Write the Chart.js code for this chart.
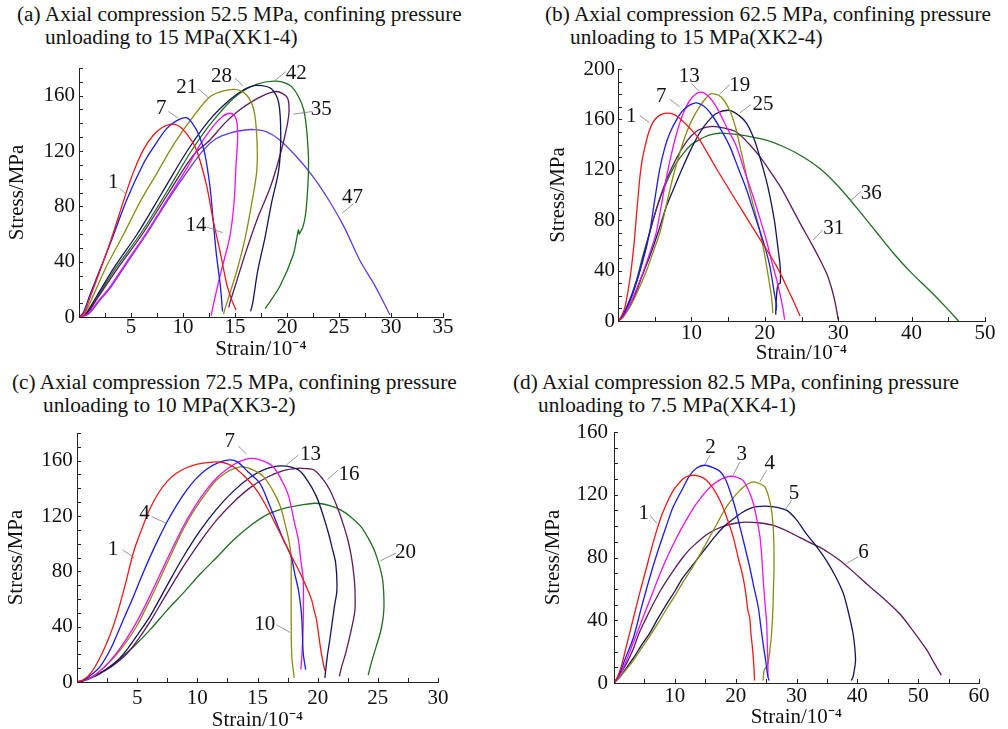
<!DOCTYPE html>
<html>
<head>
<meta charset="utf-8">
<script src="https://cdn.jsdelivr.net/npm/chart.js@4.4.0/dist/chart.umd.min.js"></script>
<style>
  html, body { margin: 0; padding: 0; background: #fff; }
  body { width: 1008px; height: 729px; position: relative; overflow: hidden; font-family: "Liberation Serif", "Times New Roman", serif; }
  canvas { position: absolute; }
  .cap { position: absolute; font-size: 21.3px; line-height: 23px; white-space: nowrap; color: #111; }
</style>
</head>
<body>
<div class="cap" style="left:17px;top:3px">(a) Axial compression 52.5 MPa, confining pressure</div>
<div class="cap" style="left:45px;top:26px">unloading to 15 MPa(XK1-4)</div>
<div class="cap" style="left:545px;top:3px">(b) Axial compression 62.5 MPa, confining pressure</div>
<div class="cap" style="left:570px;top:26px">unloading to 15 MPa(XK2-4)</div>
<div class="cap" style="left:12px;top:371px">(c) Axial compression 72.5 MPa, confining pressure</div>
<div class="cap" style="left:43px;top:394px">unloading to 10 MPa(XK3-2)</div>
<div class="cap" style="left:513px;top:371px">(d) Axial compression 82.5 MPa, confining pressure</div>
<div class="cap" style="left:538px;top:394px">unloading to 7.5 MPa(XK4-1)</div>

<canvas id="chartA" width="500" height="312" style="left:0;top:50px"></canvas>
<canvas id="chartB" width="504" height="316" style="left:504px;top:50px"></canvas>
<canvas id="chartC" width="500" height="318" style="left:0;top:415px"></canvas>
<canvas id="chartD" width="504" height="316" style="left:504px;top:414px"></canvas>

<script>
// Stress-strain curves, [strain (10^-4), stress (MPa)]

// (a) XK1-4, curve numbers 1..47
const curveA1 = [[0,0],[0.5,3],[1.2,17],[2.0,33],[3.0,54],[4.5,89],[5.3,106],[6.2,121],[7.1,131],[8.0,137],[9.0,139.5],[9.8,137],[10.5,131],[11.1,124],[11.6,114],[12.3,94],[12.9,70],[13.6,46],[14.2,24],[14.7,12],[15.1,5]];
const curveA7 = [[0,0],[0.4,3],[1.1,17],[2.0,34],[3.1,55],[4.6,85],[6.2,111],[7.1,122],[8.4,136],[9.4,142],[10.4,144],[11.2,136.5],[11.7,128],[12.1,118],[12.6,94],[12.9,70],[13.2,46],[13.6,22],[13.8,4]];
const curveA14 = [[0,0],[0.8,2],[1.9,12],[3.0,22],[4.6,40],[6.4,60],[8.4,84],[10.4,108],[11.6,124],[12.9,138],[13.8,145],[14.5,147.3],[15.0,145],[15.2,140],[15.25,128],[15.1,110],[14.9,82],[14.5,58],[13.7,34],[13.1,15],[12.7,1]];
const curveA21 = [[0,0],[0.5,2],[1.4,16],[2.6,36],[4.3,60],[6.0,85],[7.5,104],[8.8,121],[10.4,139],[12.4,158],[13.5,162.5],[15.0,164.5],[16.1,160.5],[16.8,150],[17.1,130],[17.1,106],[16.6,82],[16.0,58],[15.2,34],[14.5,17],[14.0,5],[13.9,2]];
const curveA28 = [[0,0],[0.6,2],[1.7,15],[3.4,36],[5.6,60],[8.0,90],[10.4,120],[12.5,142],[14.5,157],[16.0,165],[17.1,167.5],[18.5,165],[19.2,155],[19.4,130],[19.2,106],[18.5,82],[17.9,58],[17.2,34],[16.7,10],[16.5,4]];
const curveA35 = [[0,0],[0.7,2],[1.9,15],[3.8,36],[6.1,60],[8.8,92],[11.0,117],[12.6,128],[14.0,140],[15.5,150],[17.4,159],[19.0,163],[20.0,159],[20.2,150],[20.0,138],[19.3,116],[18.4,94],[17.1,70],[16.0,46],[15.0,22],[14.5,10],[14.4,7]];
const curveA42 = [[0,0],[0.7,2],[1.8,15],[3.6,36],[5.9,60],[8.4,90],[10.8,120],[12.8,141],[15.0,159],[17.0,168],[19.0,170.5],[20.45,166.5],[21.6,150],[22.05,118],[22.0,94],[21.7,70],[21.2,60],[21.1,63],[20.6,45],[19.3,22],[17.9,6]];
const curveA47 = [[0,0],[0.9,2],[2.0,12],[3.1,22],[4.7,40],[6.5,60],[8.5,84],[10.5,106],[12.0,121],[13.2,129],[14.5,133],[15.8,135],[16.8,135.5],[18.0,134],[19.3,128],[20.9,116],[22.5,101.5],[24.1,83.5],[25.5,65],[27.0,41],[28.5,22],[29.9,1.5]];

// (b) XK2-4
const curveB1 = [[0,0],[0.4,3],[0.9,10],[1.4,25],[1.8,41],[2.2,62],[2.5,83],[2.8,103],[3.0,115],[3.3,128],[3.7,139],[4.2,150],[4.8,158],[5.6,163],[6.6,165],[7.6,164],[8.4,161],[9.8,153],[11.1,144],[13.4,121],[15.6,100],[18.8,70],[21.6,43.5],[23.4,22],[24.5,8],[24.8,4]];
const curveB7 = [[0,0],[0.5,3],[1.2,11],[2.0,22],[3.4,48],[4.3,70],[5.0,96],[5.7,121],[6.4,138],[7.05,149],[8.0,160],[8.9,167.5],[10.45,173],[11.8,170],[12.9,162.5],[14.0,152],[15.2,139],[16.4,121],[17.5,104.5],[18.4,88],[19.3,72],[20.1,57],[20.7,43],[21.3,22],[21.6,12],[21.5,8]];
const curveB13 = [[0,0],[0.6,3],[1.5,12],[2.5,25],[3.5,40],[4.4,55],[5.2,70],[6.0,95],[6.6,114],[7.3,133],[8.0,149],[8.9,165],[9.9,176],[11.1,181.5],[12.2,179],[13.4,170],[14.7,155],[16.1,139],[17.3,118],[18.4,99],[19.3,82],[20.2,64.5],[20.9,48],[21.6,33],[22.2,18],[22.5,9],[22.7,1]];
const curveB19 = [[0,0],[0.7,3],[1.7,12],[2.8,25],[3.9,40],[4.8,55],[5.7,70],[6.7,95],[7.5,114.5],[8.4,133],[9.3,149],[10.2,161],[11.1,170],[12.0,177],[12.7,180.5],[14.0,178],[15.2,167.5],[16.0,154],[16.6,139],[17.3,121],[17.9,104.5],[18.6,88],[19.3,72],[19.9,55],[20.4,38],[20.9,19.6],[21.1,6.4]];
const curveB25 = [[0,0],[0.6,3],[2.0,16],[3.1,33],[4.3,51],[5.5,71],[6.6,91],[7.8,108],[8.9,123],[10.0,137],[11.1,149],[12.2,158],[13.4,164.7],[15.2,167.2],[16.5,163],[17.5,157],[18.5,145],[19.3,130.6],[20.1,114],[20.7,99],[21.3,80],[21.6,67],[21.9,53],[22.1,43],[22.1,30],[21.8,29],[21.6,20],[21.5,9],[21.5,5]];
const curveB31 = [[0,0],[0.5,3],[1.5,14],[2.6,32],[3.5,52],[4.3,70],[5.4,92],[6.6,112],[7.7,126],[8.9,138.6],[10.0,147],[11.1,152],[12.8,154.5],[14.5,153],[16.1,150],[17.7,141.5],[19.3,130.6],[20.7,119],[22.1,106.8],[23.5,92],[24.8,77.7],[26.3,62],[27.4,50],[28.4,38],[29.0,28],[29.5,17],[29.8,8],[30.0,1]];
const curveB36 = [[0,0],[0.5,3],[1.4,14],[2.5,32],[3.4,52],[4.3,70],[5.4,92],[6.6,110],[7.7,123],[8.9,133],[10.0,140],[11.1,144],[12.4,147.5],[13.8,149],[15.5,148.5],[17.5,147],[20.2,143.5],[22.5,138.5],[25.0,131],[27.5,121],[30.0,107],[32.5,90],[35.0,72],[37.5,54],[40.0,38],[42.5,24],[44.5,12],[46.4,0]];

// (c) XK3-2
const curveC1 = [[0,0],[0.5,1.5],[1.0,5],[1.5,11],[2.1,21],[2.7,33],[3.3,48],[4.0,70],[4.7,94],[5.4,111],[6.1,126],[6.8,137],[7.5,145],[8.2,150.5],[9.0,154.5],[10.0,157.5],[11.3,159],[12.2,158.5],[13.0,155.6],[14.0,148],[14.9,139],[15.8,126],[16.6,112.3],[17.2,102],[17.7,93],[18.3,83],[18.8,74],[19.2,66],[19.5,59.4],[19.7,52],[19.9,45],[20.1,33],[20.3,21],[20.5,12],[20.6,8]];
const curveC4 = [[0,0],[0.5,1],[1.0,4],[1.9,11],[2.8,24],[3.7,42],[4.7,62],[5.4,77],[6.1,91],[6.8,104],[7.5,116],[8.3,128],[9.1,138.5],[9.9,147],[10.8,154],[11.8,158.8],[12.7,160.5],[13.3,159.3],[14.2,152],[15.2,143.6],[15.9,130],[16.6,114.7],[17.2,102],[17.8,90.7],[18.1,78],[18.4,66.6],[18.6,54],[18.7,42.6],[18.8,21],[19.0,9]];
const curveC7 = [[0,0],[0.7,1.5],[1.5,5],[2.3,11],[3.2,20],[4.1,31],[5.0,44],[6.1,63],[7.4,87],[8.8,112],[9.8,127],[10.8,139.5],[11.6,147.5],[12.4,153.5],[13.4,159],[14.5,161.7],[15.4,160],[16.3,155.6],[17.0,146],[17.6,134],[18.0,118],[18.4,102.6],[18.6,88],[18.8,73.8],[18.8,42.6],[18.7,21],[18.6,9]];
const curveC10 = [[0,0],[0.7,1.5],[1.5,5],[2.3,11],[3.2,19],[4.1,29],[5.0,41],[6.1,60],[7.5,86],[8.8,110],[9.8,125],[10.8,137.5],[11.6,146],[12.4,151.5],[13.1,154.5],[13.8,155.6],[14.7,153],[15.5,148.5],[16.3,138],[16.9,126.8],[17.3,114],[17.6,102.6],[17.8,90],[17.8,78.6],[17.8,42.6],[17.85,18.5],[18.05,3]];
const curveC13 = [[0,0],[0.7,1.5],[1.5,4.5],[2.4,9],[3.3,15],[4.2,24],[5.1,35],[6.1,48],[7.5,70],[8.8,90],[10.2,109],[11.6,125],[13.0,138],[14.4,148],[15.7,154],[17.0,156.2],[18.4,153.3],[19.2,145],[19.9,134],[20.4,122],[20.9,107.5],[21.2,97],[21.5,85.8],[21.6,66.6],[21.4,55],[21.2,42.6],[21.0,30],[20.8,18.5],[20.6,3]];
const curveC16 = [[0,0],[0.7,1.5],[1.5,4.5],[2.4,8.5],[3.3,14],[4.2,21],[5.1,31],[6.1,44],[7.4,63],[8.8,83],[10.2,101],[11.6,117],[13.0,130],[14.4,140.5],[15.8,148],[17.2,153],[18.3,154.5],[19.0,154.3],[19.7,153.3],[20.4,147],[21.0,139],[21.6,127],[22.1,114.7],[22.5,103],[22.8,90.7],[23.0,78],[23.1,66.6],[23.1,52.2],[22.9,42],[22.6,30.5],[22.3,20],[22.0,11.3],[21.8,4]];
const curveC20 = [[0,0],[0.6,1],[1.2,3],[1.9,6],[3.3,15],[4.7,25.5],[6.1,38],[7.5,52],[8.9,65],[10.3,78.6],[11.6,90],[13.0,102.6],[14.4,113],[15.8,121],[17.0,125],[18.0,127],[19.8,129.2],[21.0,127.5],[21.9,124.4],[22.8,119],[23.6,112.3],[24.2,104],[24.7,95.4],[25.1,85],[25.4,73.8],[25.5,62],[25.5,52.2],[25.4,44],[25.2,35.4],[24.7,21],[24.4,12],[24.2,5]];

// (d) XK4-1
const curveD1 = [[0,0],[0.6,4],[1.3,12],[2.0,23],[3.1,40],[4.2,57],[5.3,73],[6.4,89],[7.0,97],[7.8,106.5],[8.6,114],[9.7,122.5],[10.6,127],[11.4,130.3],[12.3,132],[13.3,132.4],[14.2,131.5],[15.2,129.2],[16.3,124],[17.4,116.5],[18.5,106],[19.6,93],[20.4,80],[21.2,67.6],[21.7,56],[22.0,46.3],[22.3,42],[22.5,32],[22.8,20.8],[23.0,10],[23.1,1.6]];
const curveD2 = [[0,0],[0.8,5],[1.8,15],[3.2,29],[4.5,48],[5.9,67.6],[7.2,84],[8.6,100],[9.7,112],[11.3,124],[12.4,132],[13.6,137],[14.9,138.8],[16.2,137.5],[17.4,135],[18.3,130],[19.0,123],[19.9,112],[20.7,99.5],[21.5,87],[22.3,74],[23.0,61],[23.7,48.6],[24.1,37],[24.5,25.3],[24.9,15],[25.3,4],[25.5,1.6]];
const curveD3 = [[0,0],[0.8,4],[1.9,13],[3.2,26],[4.5,39],[5.9,53],[7.2,66],[8.6,79],[10.2,92],[11.9,104],[13.5,114],[15.2,122.5],[16.3,126.5],[17.4,129.5],[18.4,131.2],[19.3,131.8],[20.3,131],[21.2,129.2],[22.1,123],[22.9,114.6],[23.5,104],[24.0,93],[24.3,80],[24.5,67.6],[24.8,52],[25.1,37.8],[25.2,25],[25.3,12.3],[25.3,4]];
const curveD4 = [[0,0],[1.0,4],[2.1,9],[3.2,14.5],[4.5,22],[5.9,30],[7.2,38],[8.6,47],[10.0,55.5],[11.3,64],[12.7,72.5],[14.0,81],[15.0,88],[16.0,95],[17.0,102],[17.9,108.5],[18.8,114],[19.6,118],[20.5,122],[21.3,125],[22.1,127.2],[22.9,128.2],[24.0,127],[24.8,125],[25.4,119],[25.9,110],[26.2,97],[26.3,84.6],[26.3,72],[26.2,59],[26.1,45],[25.9,31.4],[25.6,20],[25.3,12.3],[25.0,10],[24.7,8.5],[24.6,6],[24.5,1.6]];
const curveD5 = [[0,0],[1.0,4],[2.1,10],[3.2,16],[4.5,24],[5.9,32],[7.2,41],[8.6,50],[10.0,58.5],[11.3,67],[12.7,74],[14.1,81],[15.3,87],[16.5,93],[18.0,99.5],[19.6,104.5],[21.0,108.5],[22.5,111.5],[24.0,112.6],[26.0,112.4],[28.4,110],[30.0,104],[31.6,95.2],[33.3,87],[34.9,78.2],[36.4,68],[37.7,57],[38.6,44],[39.3,31.4],[39.6,22],[39.7,14.4],[39.5,8],[39.3,4],[39.0,1.6]];
const curveD6 = [[0,0],[0.9,5],[2.0,12],[3.1,21],[4.2,32.5],[5.3,41.5],[6.4,50],[7.5,58],[8.6,65],[9.9,72.5],[11.3,80],[12.4,85],[13.5,89],[15.2,94.5],[16.8,98],[18.5,100.5],[20.2,102],[21.8,102.6],[24.0,102],[26.2,100.5],[28.4,97],[30.5,92.8],[32.2,89.5],[33.8,86.6],[35.5,82.6],[37.1,78.2],[39.3,71],[41.5,63.3],[44.3,54],[47.0,44],[49.2,33],[51.3,21.7],[52.6,13],[53.8,5]];

// curve colours, same order in every panel
const RED = '#f01818', BLUE = '#1a1aee', MAGENTA = '#f010f0', OLIVE = '#8a8a14',
      NAVY = '#14145a', PURPLE = '#5c1a5c', GREEN = '#1e6e1e', VIOLET = '#5a3cf0';

// curve number tags: [label, text x, text y, leader x1, y1, x2, y2] in data units
const tagsA = [
  ['1', 3.3, 97, 3.9, 93, 4.5, 89],
  ['7', 7.9, 151, 8.6, 148.5, 9.55, 143.7],
  ['14', 11.25, 65.8, 12.3, 65, 13.8, 61],
  ['21', 10.35, 166, 11.5, 164.7, 12.4, 158.9],
  ['28', 13.7, 173.8, 15.0, 172.6, 15.8, 167],
  ['42', 20.9, 175.7, 19.9, 177.4, 18.85, 171],
  ['35', 23.3, 150, 22.4, 148.5, 20.6, 146.6],
  ['47', 26.3, 86.5, 26.4, 82, 25.3, 75]
];
const tagsB = [
  ['1', 1.8, 162.5, 2.97, 163, 4.3, 157.3],
  ['7', 5.9, 178.4, 7.04, 176, 8.4, 170],
  ['13', 9.7, 193.7, 10.0, 188.5, 11.1, 182],
  ['19', 16.6, 186.9, 15.2, 187.6, 13.8, 179.7],
  ['25', 19.76, 171.8, 18.1, 171.8, 16.6, 165.1],
  ['36', 34.5, 101.5, 33.1, 102.8, 31.6, 95],
  ['31', 29.4, 73.6, 27.9, 72.3, 26.6, 64.3]
];
const tagsC = [
  ['1', 3.0, 95.5, 3.8, 95.5, 4.8, 89.5],
  ['4', 5.6, 121.5, 6.2, 119.6, 7.4, 114.8],
  ['7', 12.7, 173.7, 13.4, 170.6, 14.1, 164.8],
  ['13', 19.4, 164.6, 18.4, 164.1, 17.4, 156.9],
  ['16', 22.6, 150.1, 21.7, 153.3, 20.8, 146.1],
  ['20', 27.3, 93.8, 26.5, 93.1, 25.2, 87.6],
  ['10', 15.6, 41.7, 16.6, 41.3, 17.7, 35.8]
];
const tagsD = [
  ['1', 4.9, 108, 5.9, 107, 7.1, 101.6],
  ['2', 15.85, 150, 15.75, 145.2, 14.9, 138.9],
  ['3', 21.0, 145.7, 20.7, 140.9, 19.6, 132.6],
  ['4', 25.6, 140, 25.1, 135.6, 23.96, 128.2],
  ['5', 29.6, 120.8, 29.2, 116.5, 28.1, 110.2],
  ['6', 41.0, 82.9, 40.1, 80.4, 38.2, 76.1]
];

const SERIF = '"Liberation Serif", "Times New Roman", serif';
const INK = '#111';

// tick marks pointing into the plot
const innerTicks = {
  id: 'innerTicks',
  afterDraw(chart) {
    const { ctx, scales: { x, y } } = chart;
    ctx.save();
    ctx.strokeStyle = '#222';
    ctx.lineWidth = 1;
    ctx.beginPath();
    x.ticks.forEach(t => {
      const px = Math.round(x.getPixelForValue(t.value)) + 0.5;
      ctx.moveTo(px, y.bottom);
      ctx.lineTo(px, y.bottom - 4);
    });
    y.ticks.forEach(t => {
      const py = Math.round(y.getPixelForValue(t.value)) + 0.5;
      ctx.moveTo(x.left, py);
      ctx.lineTo(x.left + 4, py);
    });
    ctx.stroke();
    ctx.restore();
  }
};

// curve numbers with thin grey leader lines
function tagPlugin(tags) {
  return {
    id: 'curveTags',
    afterDatasetsDraw(chart) {
      const { ctx, scales: { x, y } } = chart;
      ctx.save();
      ctx.font = '21px ' + SERIF;
      ctx.textAlign = 'center';
      ctx.textBaseline = 'middle';
      tags.forEach(([label, tx, ty, x1, y1, x2, y2]) => {
        ctx.strokeStyle = '#7a7a7a';
        ctx.lineWidth = 0.8;
        ctx.beginPath();
        ctx.moveTo(x.getPixelForValue(x1), y.getPixelForValue(y1));
        ctx.lineTo(x.getPixelForValue(x2), y.getPixelForValue(y2));
        ctx.stroke();
        ctx.fillStyle = INK;
        ctx.fillText(label, x.getPixelForValue(tx), y.getPixelForValue(ty));
      });
      ctx.restore();
    }
  };
}

const onStep = (v, every) => Math.abs(v / every - Math.round(v / every)) < 1e-6;

function makeChart(id, cfg) {
  return new Chart(document.getElementById(id), {
    type: 'scatter',
    data: {
      datasets: cfg.series.map((s, i) => ({
        data: s.map(p => ({ x: p[0], y: p[1] })),
        borderColor: cfg.colors[i],
        borderWidth: 1.3,
        showLine: true,
        pointRadius: 0,
        tension: 0.3,
        fill: false
      }))
    },
    options: {
      responsive: false,
      animation: false,
      layout: { padding: { left: 0, top: cfg.padTop, right: cfg.padRight, bottom: 0 } },
      plugins: { legend: { display: false }, tooltip: { enabled: false } },
      scales: {
        x: {
          type: 'linear', min: 0, max: cfg.xMax,
          ticks: {
            stepSize: cfg.xStep, autoSkip: false, maxRotation: 0, padding: cfg.xTickPad,
            color: INK, font: { family: SERIF, size: 21, lineHeight: 1 },
            callback: v => (v !== 0 && onStep(v, cfg.xLabelEvery)) ? v : ''
          },
          grid: { drawOnChartArea: false, drawTicks: false },
          border: { color: '#222', width: 1 },
          title: {
            display: true, text: 'Strain/10⁻⁴', color: INK,
            font: { family: SERIF, size: 21, lineHeight: 1.2 },
            padding: { top: 0, bottom: 0 }
          },
          afterFit: s => { s.height = cfg.xAxisH; }
        },
        y: {
          type: 'linear', min: 0, max: cfg.yMax,
          ticks: {
            stepSize: 10, autoSkip: false, padding: cfg.yTickPad,
            color: INK, font: { family: SERIF, size: 21, lineHeight: 1 },
            callback: v => onStep(v, 40) ? v : ''
          },
          grid: { drawOnChartArea: false, drawTicks: false },
          border: { color: '#222', width: 1 },
          title: {
            display: true, text: 'Stress/MPa', color: INK,
            font: { family: SERIF, size: 21, lineHeight: 1.2 },
            padding: { top: cfg.yTitlePad, bottom: 0 }
          },
          afterFit: s => { s.width = cfg.yAxisW; }
        }
      }
    },
    plugins: [innerTicks, tagPlugin(cfg.tags)]
  });
}

makeChart('chartA', {
  series: [curveA1, curveA7, curveA14, curveA21, curveA28, curveA35, curveA42, curveA47],
  colors: [RED, BLUE, MAGENTA, OLIVE, NAVY, PURPLE, GREEN, VIOLET],
  tags: tagsA,
  xMax: 35, xStep: 2.5, xLabelEvery: 5, yMax: 180,
  padTop: 18, padRight: 57, yAxisW: 79, xAxisH: 45,
  xTickPad: 0, yTickPad: 4, yTitlePad: 4.4
});

makeChart('chartB', {
  series: [curveB1, curveB7, curveB13, curveB19, curveB25, curveB31, curveB36],
  colors: [RED, BLUE, MAGENTA, OLIVE, NAVY, PURPLE, GREEN],
  tags: tagsB,
  xMax: 50, xStep: 5, xLabelEvery: 10, yMax: 200,
  padTop: 19, padRight: 23, yAxisW: 114, xAxisH: 45,
  xTickPad: 1.5, yTickPad: 3, yTitlePad: 41.4
});

makeChart('chartC', {
  series: [curveC1, curveC4, curveC7, curveC10, curveC13, curveC16, curveC20],
  colors: [RED, BLUE, MAGENTA, OLIVE, NAVY, PURPLE, GREEN],
  tags: tagsC,
  xMax: 30, xStep: 2.5, xLabelEvery: 5, yMax: 180,
  padTop: 18, padRight: 62, yAxisW: 77, xAxisH: 51,
  xTickPad: 6, yTickPad: 4.3, yTitlePad: 3.4
});

makeChart('chartD', {
  series: [curveD1, curveD2, curveD3, curveD4, curveD5, curveD6],
  colors: [RED, BLUE, MAGENTA, OLIVE, NAVY, PURPLE],
  tags: tagsD,
  xMax: 60, xStep: 5, xLabelEvery: 10, yMax: 160,
  padTop: 18, padRight: 29, yAxisW: 110, xAxisH: 47,
  xTickPad: 2.5, yTickPad: 6, yTitlePad: 36.4
});
</script>
</body>
</html>
